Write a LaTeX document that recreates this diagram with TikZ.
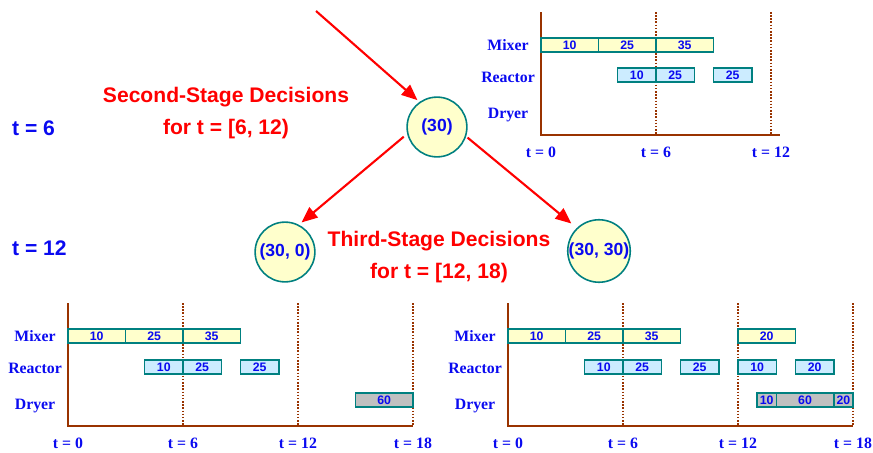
\documentclass[tikz,border=0pt]{standalone}
\usepackage{fontspec}
\setmainfont{Liberation Sans}
\newfontfamily\ganttfont{Liberation Serif}
\usetikzlibrary{arrows.meta}
\definecolor{decred}{RGB}{255,0,0}
\definecolor{lblblue}{RGB}{10,10,240}
\definecolor{edgeteal}{RGB}{0,128,128}
\definecolor{nodefill}{RGB}{255,255,204}
\definecolor{reacfill}{RGB}{204,236,255}
\definecolor{dryfill}{RGB}{192,192,192}
\definecolor{axisbrown}{RGB}{153,51,0}

\begin{document}
\begin{tikzpicture}[x=0.02cm, y=-0.02cm,
  stage/.style={text=decred, font=\bfseries\fontsize{12}{17.8}\selectfont, align=center},
  timelbl/.style={text=lblblue, font=\bfseries\fontsize{12}{14}\selectfont, anchor=west},
  scen/.style={circle, draw=edgeteal, line width=0.9pt, fill=nodefill, minimum size=34pt, inner sep=0pt, text=lblblue, font=\bfseries\fontsize{10}{12}\selectfont},
  decision/.style={draw=decred, line width=1.2pt, -{Triangle[length=9pt, width=7.5pt]}},
  axisline/.style={draw=axisbrown, line width=1.2pt},
  period/.style={draw=axisbrown, line width=0.9pt, dash pattern=on 0.9pt off 0.9pt},
  unitlbl/.style={text=lblblue, font=\ganttfont\bfseries\fontsize{9}{11}\selectfont},
  ticklbl/.style={text=lblblue, font=\ganttfont\bfseries\fontsize{9}{11}\selectfont},
  batch/.style={draw=edgeteal, line width=0.85pt},
  batchnum/.style={text=lblblue, font=\bfseries\fontsize{7}{8}\selectfont, inner sep=0pt}]
  \useasboundingbox (0,0) rectangle (873,453);

  % scenario tree
  \node[scen] (n30) at (437,127) {(30)};
  \node[scen] (n300) at (285,252) {(30, 0)};
  \node[scen] (n3030) at (599,251) {(30, 30)};
  \coordinate (entry) at (316,11);
  \draw[decision, shorten >=1.5pt] (entry) -- (n30.125);
  \draw[decision, shorten <=2.5pt, shorten >=2pt] (n30.193) -- (n300.63);
  \draw[decision, shorten <=1pt, shorten >=4pt] (n30.342) -- (n3030.134);

  \node[stage] (second) at (226,113) {Second-Stage Decisions\\for t = [6, 12)};
  \node[stage] (third) at (439,257) {Third-Stage Decisions\\for t = [12, 18)};
  \node[timelbl] (t6) at (6,128) {t = 6};
  \node[timelbl] (t12) at (6,248) {t = 12};

  % schedule up to t = 12
  \begin{scope}[shift={(541,135)}, x=0.38333cm, name prefix=top-]
    \foreach \t in {6,12} \draw[period] (\t,-123) -- (\t,0);
    \draw[axisline] (0,-123) -- (0,0) -- (12.47,0);
    \foreach \t in {0,6,12} \node[ticklbl] (tk\t) at (\t,17) {t = \t};
    \node[unitlbl] (mixer) at (-1.72,-90) {Mixer};
    \node[unitlbl] (reactor) at (-1.72,-58) {Reactor};
    \node[unitlbl] (dryer) at (-1.72,-20) {Dryer};
    \foreach \a/\b/\v [count=\i] in {0/3/10, 3/6/25, 6/9/35}
      \draw[batch, fill=nodefill] (\a,-97) rectangle (\b,-83) node[batchnum, midway] (mix\i) {\v};
    \foreach \a/\b/\v [count=\i] in {4/6/10, 6/8/25, 9/11/25}
      \draw[batch, fill=reacfill] (\a,-67) rectangle (\b,-53) node[batchnum, midway] (reac\i) {\v};
  \end{scope}

  % scenario (30, 0)
  \begin{scope}[shift={(68,426)}, x=0.38333cm, name prefix=low-]
    \foreach \t in {6,12,18} \draw[period] (\t,-123) -- (\t,0);
    \draw[axisline] (0,-123) -- (0,0) -- (18,0);
    \foreach \t in {0,6,12,18} \node[ticklbl] (tk\t) at (\t,17) {t = \t};
    \node[unitlbl] (mixer) at (-1.72,-90) {Mixer};
    \node[unitlbl] (reactor) at (-1.72,-58) {Reactor};
    \node[unitlbl] (dryer) at (-1.72,-20) {Dryer};
    \foreach \a/\b/\v [count=\i] in {0/3/10, 3/6/25, 6/9/35}
      \draw[batch, fill=nodefill] (\a,-97) rectangle (\b,-83) node[batchnum, midway] (mix\i) {\v};
    \foreach \a/\b/\v [count=\i] in {4/6/10, 6/8/25, 9/11/25}
      \draw[batch, fill=reacfill] (\a,-66) rectangle (\b,-52) node[batchnum, midway] (reac\i) {\v};
    \draw[batch, fill=dryfill] (15,-33) rectangle (18,-19) node[batchnum, midway] (dry1) {60};
  \end{scope}

  % scenario (30, 30)
  \begin{scope}[shift={(508,426)}, x=0.38333cm, name prefix=high-]
    \foreach \t in {6,12,18} \draw[period] (\t,-123) -- (\t,0);
    \draw[axisline] (0,-123) -- (0,0) -- (18,0);
    \foreach \t in {0,6,12,18} \node[ticklbl] (tk\t) at (\t,17) {t = \t};
    \node[unitlbl] (mixer) at (-1.72,-90) {Mixer};
    \node[unitlbl] (reactor) at (-1.72,-58) {Reactor};
    \node[unitlbl] (dryer) at (-1.72,-20) {Dryer};
    \foreach \a/\b/\v [count=\i] in {0/3/10, 3/6/25, 6/9/35, 12/15/20}
      \draw[batch, fill=nodefill] (\a,-97) rectangle (\b,-83) node[batchnum, midway] (mix\i) {\v};
    \foreach \a/\b/\v [count=\i] in {4/6/10, 6/8/25, 9/11/25, 12/14/10, 15/17/20}
      \draw[batch, fill=reacfill] (\a,-66) rectangle (\b,-52) node[batchnum, midway] (reac\i) {\v};
    \foreach \a/\b/\v [count=\i] in {13/14/10, 14/17/60, 17/18/20}
      \draw[batch, fill=dryfill] (\a,-33) rectangle (\b,-19) node[batchnum, midway] (dry\i) {\v};
  \end{scope}
\end{tikzpicture}
\end{document}
